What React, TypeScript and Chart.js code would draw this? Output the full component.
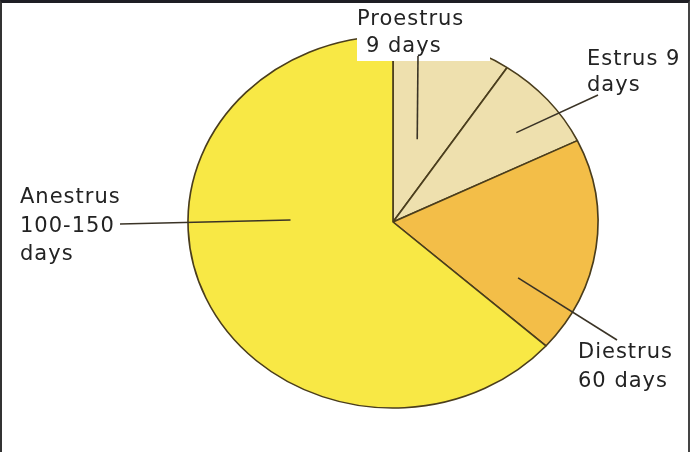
import React, { useEffect, useRef } from "react";
import { Chart, registerables } from "chart.js";

Chart.register(...registerables);

// ---- data ----
const phases = ["Proestrus", "Estrus", "Diestrus", "Anestrus"];
const shares = [9.4, 8.4, 18.8, 63.4];
const phaseLabels = [
  ["Proestrus", "9 days"],
  ["Estrus 9", "days"],
  ["Diestrus", "60 days"],
  ["Anestrus", "100-150", "days"],
];
const sliceColors = ["#EEE0AE", "#EEE0AE", "#F3BE48", "#F8E845"];

// ---- layout/style ----
const W = 692;
const H = 452;
const STRETCH_X = 205 / 186;
const FONT = "21px 'DejaVu Sans', sans-serif";
const LINE_COLOR = "#3a3326";

// leader: where on the slice (fraction of sweep, fraction of radius), outer end, text origin, line step
const leaders = [
  { t: 0.44, rf: 0.46, end: [418, 56], text: [[357, 25], [366, 52]] },
  { t: 0.58, rf: 0.77, end: [598, 95], text: [[587, 65], [587, 91]] },
  { t: 0.77, rf: 0.68, end: [617, 340], text: [[578, 358], [578, 387]] },
  { t: 0.611, rf: 0.5, end: [120, 224], text: [[20, 203], [20, 232], [20, 260]] },
];

const ellipsePlugin = {
  id: "ellipse",
  beforeDatasetsDraw(chart: any) {
    const arc = chart.getDatasetMeta(0).data[0];
    if (!arc) return;
    const ctx = chart.ctx;
    ctx.save();
    ctx.translate(arc.x, arc.y);
    ctx.scale(STRETCH_X, 1);
    ctx.translate(-arc.x, -arc.y);
  },
  afterDatasetsDraw(chart: any) {
    chart.ctx.restore();
  },
};

const labelPlugin = {
  id: "labels",
  afterDraw(chart: any) {
    const ctx = chart.ctx;
    const meta = chart.getDatasetMeta(0);
    const first = meta.data[0];
    if (!first) return;
    const cx = first.x;
    const cy = first.y;
    ctx.save();
    // white box behind the top label
    ctx.fillStyle = "#ffffff";
    ctx.fillRect(357, 0, 133, 61);

    ctx.strokeStyle = LINE_COLOR;
    ctx.lineWidth = 1.6;
    meta.data.forEach((arc: any, i: number) => {
      const p = arc.getProps(["startAngle", "endAngle", "outerRadius"], true);
      const L = leaders[i];
      const a = p.startAngle + (p.endAngle - p.startAngle) * L.t;
      const r = p.outerRadius * L.rf;
      const x = cx + Math.cos(a) * r * STRETCH_X;
      const y = cy + Math.sin(a) * r;
      ctx.beginPath();
      ctx.moveTo(x, y);
      ctx.lineTo(L.end[0], L.end[1]);
      ctx.stroke();
    });

    ctx.fillStyle = "#232323";
    ctx.font = FONT;
    (ctx as any).letterSpacing = "1px";
    ctx.textBaseline = "alphabetic";
    ctx.textAlign = "left";
    phaseLabels.forEach((lines, i) => {
      lines.forEach((line, j) => {
        const pos = leaders[i].text[j];
        ctx.fillText(line, pos[0], pos[1]);
      });
    });
    ctx.restore();
  },
};

export default function App() {
  const ref = useRef<HTMLCanvasElement | null>(null);
  useEffect(() => {
    if (!ref.current) return;
    const chart = new Chart(ref.current, {
      type: "pie",
      data: {
        labels: phases,
        datasets: [
          {
            data: shares,
            backgroundColor: sliceColors,
            borderColor: "#4a3d1c",
            borderWidth: 1.5,
          },
        ],
      },
      options: {
        responsive: false,
        animation: false,
        layout: { padding: { left: 206.25, right: 112.25, top: 35.25, bottom: 43.25 } },
        plugins: { legend: { display: false }, tooltip: { enabled: false } },
      },
      plugins: [ellipsePlugin, labelPlugin],
    });
    return () => chart.destroy();
  }, []);
  return (
    <div style={{ position: "fixed", left: 0, top: 0, width: W, height: H, background: "#fff" }}>
      <canvas ref={ref} width={W} height={H} style={{ position: "absolute", left: 0, top: 0, width: W, height: H }} />
      <div
        style={{
          position: "absolute",
          left: 0,
          top: 0,
          width: 690,
          height: H,
          boxSizing: "border-box",
          borderTop: "3px solid #1e1e24",
          borderLeft: "2px solid #333",
          borderRight: "2px solid #444",
          pointerEvents: "none",
        }}
      />
    </div>
  );
}
